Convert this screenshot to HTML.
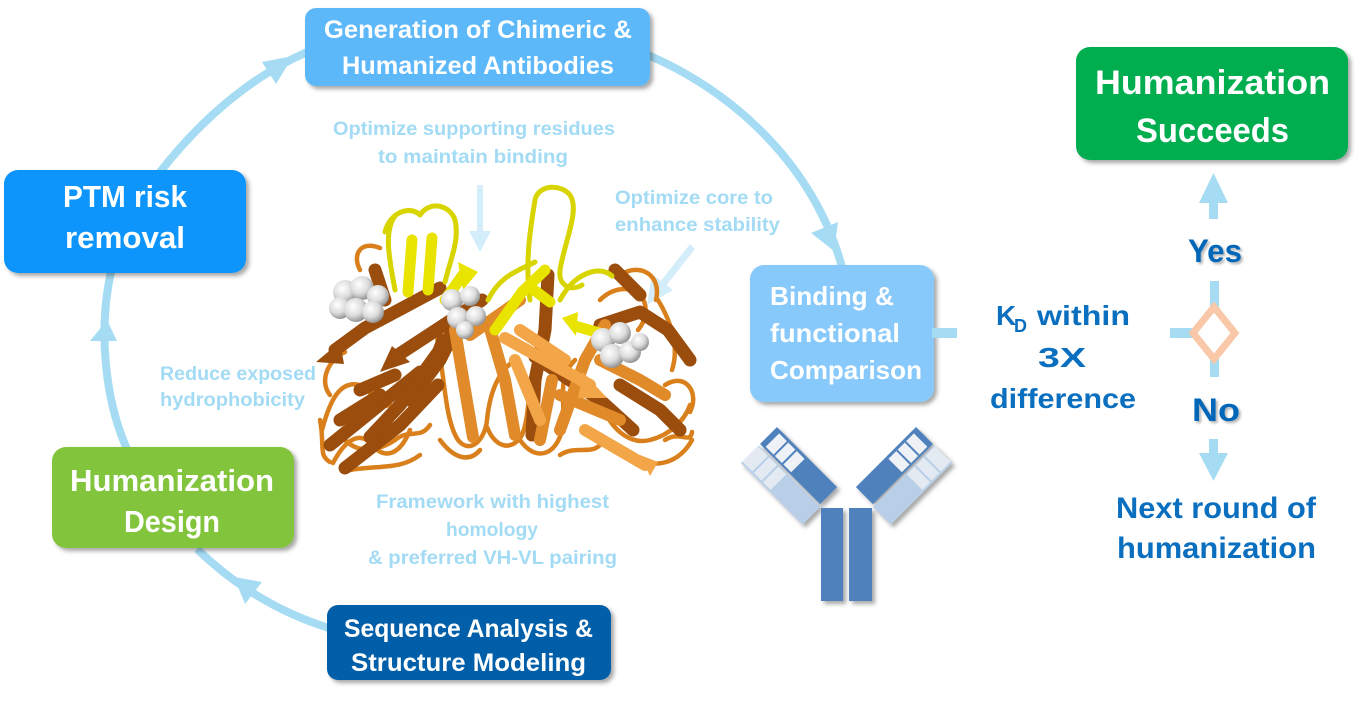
<!DOCTYPE html>
<html><head><meta charset="utf-8"><style>
html,body{margin:0;padding:0;background:#fff;}
svg{display:block;}
text{font-family:"Liberation Sans",sans-serif;font-weight:bold;}
</style></head><body>
<svg width="1363" height="705" viewBox="0 0 1363 705" xmlns="http://www.w3.org/2000/svg">
<defs>
<filter id="sh" x="-10%" y="-10%" width="130%" height="140%"><feDropShadow dx="3" dy="3" stdDeviation="2" flood-color="#000" flood-opacity="0.35"/></filter>
<filter id="tsh" x="-10%" y="-10%" width="130%" height="140%"><feDropShadow dx="2" dy="2" stdDeviation="1.2" flood-color="#000" flood-opacity="0.3"/></filter>
<radialGradient id="sp" cx="0.38" cy="0.35" r="0.7"><stop offset="0" stop-color="#ffffff"/><stop offset="0.55" stop-color="#dcdcdc"/><stop offset="1" stop-color="#8a8a8a"/></radialGradient>
</defs>
<rect width="1363" height="705" fill="#fff"/>

<!-- cycle connectors -->
<g fill="none" stroke="#a5dcf3" stroke-width="8">
<path d="M160,172 Q226,88 307,52"/>
<path d="M127,449 C105,400 98,330 111,272"/>
<path d="M329,628 Q255,605 197,549"/>
<path d="M648,55 C740,95 815,170 842,267"/>
</g>
<g fill="#a5dcf3">
<polygon points="262,62 276,84 293,56"/>
<polygon points="90,341 117,341 107,320"/>
<polygon points="262,582 245,604 234,577"/>
<polygon points="811,233 838,222 834,251"/>
</g>

<!-- protein annotation arrows -->
<g fill="#d3eefa">
<rect x="477" y="185" width="6" height="48"/>
<polygon points="469,231 491,231 480,252"/>
<polygon points="690,244 695,249 665,287 660,282"/>
<polygon points="652,274 673,290 647,305"/>
</g>

<!-- protein stylized -->
<g fill="none" stroke-linecap="round" stroke-linejoin="round">
 <!-- thin loops orange -->
 <g stroke="#d9801c" stroke-width="4.5">
  <path d="M333,463 C345,440 360,430 372,445 C385,460 400,455 410,430"/>
  <path d="M322,430 C330,400 340,380 360,385 C375,390 372,410 390,405"/>
  <path d="M330,395 C318,380 330,358 345,352"/>
  <path d="M437,337 C445,380 445,420 458,440 C470,455 485,440 487,420 C490,390 500,370 515,360"/>
  <path d="M487,427 C495,448 512,452 522,435 C532,410 525,380 540,365"/>
  <path d="M520,440 C535,462 556,456 562,430 C567,400 555,380 575,360"/>
  <path d="M600,400 C610,430 630,445 650,440 C670,435 685,420 690,405"/>
  <path d="M630,455 C655,472 680,462 692,440"/>
  <path d="M600,300 C612,288 630,285 640,295 C650,306 645,322 638,330"/>
  <path d="M620,275 C640,262 662,275 656,300"/>
  <path d="M665,385 C685,372 700,392 690,412"/>
  <path d="M658,300 C670,320 680,345 672,370"/>
  <path d="M350,470 C380,465 400,470 420,455"/>
  <path d="M380,248 C360,240 352,255 360,270"/>
  <path d="M320,420 C325,445 318,455 330,462"/>
  <path d="M345,440 C360,455 380,450 395,440 C410,428 420,440 430,425"/>
  <path d="M560,455 C575,445 590,455 600,445"/>
  <path d="M665,440 C680,430 690,445 692,432"/>
  <path d="M440,440 C455,460 470,462 480,450"/>
 </g>
 <!-- broad brown ribbons -->
 <g stroke="#9a4d0c" stroke-width="13">
  <path d="M482,300 L398,355"/>
  <path d="M440,288 L365,328 L335,350"/>
  <path d="M330,445 L420,372"/>
  <path d="M345,468 L400,425 L438,385"/>
  <path d="M375,270 L385,300"/>
  <path d="M600,325 L640,312 L668,330 L690,360"/>
  <path d="M620,385 L660,410 L680,430"/>
  <path d="M410,400 L440,360 L450,340"/>
  <path d="M465,315 L400,405 L370,437"/>
  <path d="M548,275 L545,330 L535,380 L532,435"/>
  <path d="M535,357 L600,400 L633,430"/>
  <path d="M340,420 L380,395"/>
  <path d="M615,270 L640,295"/>
  <path d="M360,390 L395,375"/>
 </g>
 <g fill="#9a4d0c" stroke="none">
  <polygon points="392,346 410,362 380,372"/>
  <polygon points="316,362 340,342 344,364"/>
  <polygon points="440,330 455,350 430,356"/>
 </g>
 <!-- orange ribbons -->
 <g stroke="#e08a2a" stroke-width="12">
  <path d="M470,335 L520,300"/>
  <path d="M560,430 L585,360 L605,325"/>
  <path d="M540,440 L552,380"/>
  <path d="M620,420 L560,395"/>
  <path d="M488,322 L505,380 L515,435"/>
  <path d="M455,330 L465,390 L473,437"/>
  <path d="M600,360 L640,380 L665,395"/>
 </g>
 <g stroke="#f3a647" stroke-width="12">
  <path d="M505,338 L590,385"/>
  <path d="M585,430 L645,465"/>
  <path d="M515,360 L540,420"/>
  <path d="M520,330 L565,360"/>
 </g>
 <g fill="#f3a647" stroke="none">
  <polygon points="583,372 607,398 578,398"/>
  <polygon points="640,455 658,462 650,476"/>
 </g>
 <!-- yellow -->
 <g stroke="#d8d400" stroke-width="5">
  <path d="M530,300 C525,262 530,230 535,200 C538,185 560,183 570,195 C580,210 565,240 560,270 C558,285 570,292 582,285"/>
  <path d="M385,232 C390,212 410,205 420,215 C430,200 450,205 455,220 C460,240 450,260 445,282"/>
  <path d="M395,290 C390,262 383,232 395,216"/>
  <path d="M560,300 C575,272 600,265 612,276"/>
  <path d="M488,300 C500,275 520,270 535,262"/>
 </g>
 <g stroke="#e8e400" stroke-width="11">
  <path d="M408,292 L412,240"/>
  <path d="M428,290 L432,238"/>
  <path d="M495,330 L522,292 L545,270"/>
  <path d="M530,287 L550,302"/>
  <path d="M610,336 L575,326"/>
  <path d="M445,300 L465,272"/>
 </g>
 <g fill="#e8e400" stroke="none">
  <polygon points="458,262 478,272 463,290"/>
  <polygon points="562,318 578,312 576,336"/>
 </g>
 <!-- spheres -->
 <g fill="url(#sp)" stroke="none">
  <circle cx="345" cy="292" r="12"/><circle cx="362" cy="288" r="12"/><circle cx="378" cy="296" r="11"/>
  <circle cx="340" cy="308" r="11"/><circle cx="356" cy="310" r="12"/><circle cx="373" cy="312" r="11"/>
  <circle cx="452" cy="300" r="11"/><circle cx="470" cy="296" r="10"/><circle cx="458" cy="318" r="11"/>
  <circle cx="476" cy="316" r="10"/><circle cx="465" cy="330" r="9"/>
  <circle cx="603" cy="340" r="12"/><circle cx="620" cy="333" r="11"/><circle cx="612" cy="356" r="12"/>
  <circle cx="630" cy="352" r="11"/><circle cx="640" cy="342" r="9"/>
 </g>
</g>

<!-- annotation texts -->
<g fill="#a3dbf5" font-size="19">
 <text x="333" y="135" textLength="282" lengthAdjust="spacingAndGlyphs">Optimize supporting residues</text>
 <text x="378" y="163" textLength="190" lengthAdjust="spacingAndGlyphs">to maintain binding</text>
 <text x="615" y="204" textLength="158" lengthAdjust="spacingAndGlyphs">Optimize core to</text>
 <text x="615" y="231" textLength="165" lengthAdjust="spacingAndGlyphs">enhance stability</text>
 <text x="160" y="380" textLength="156" lengthAdjust="spacingAndGlyphs">Reduce exposed</text>
 <text x="160" y="406" textLength="145" lengthAdjust="spacingAndGlyphs">hydrophobicity</text>
 <text x="376" y="508" textLength="233" lengthAdjust="spacingAndGlyphs">Framework with highest</text>
 <text x="446" y="536" textLength="92" lengthAdjust="spacingAndGlyphs">homology</text>
 <text x="368" y="564" textLength="249" lengthAdjust="spacingAndGlyphs">&amp; preferred VH-VL pairing</text>
</g>

<!-- boxes -->
<g filter="url(#sh)">
 <rect x="305" y="8" width="345" height="78" rx="11" fill="#5db8fa"/>
 <rect x="4" y="170" width="242" height="103" rx="14" fill="#0b95fb"/>
 <rect x="52" y="447" width="242" height="101" rx="14" fill="#82c43a"/>
 <rect x="327" y="605" width="284" height="75" rx="11" fill="#045fa8"/>
 <rect x="750" y="265" width="184" height="137" rx="14" fill="#88c9fc"/>
 <rect x="1076" y="47" width="272" height="113" rx="14" fill="#00ad4f"/>
</g>
<g fill="#fff">
 <text x="324" y="38" font-size="25" textLength="308" lengthAdjust="spacingAndGlyphs">Generation of Chimeric &amp;</text>
 <text x="342" y="74" font-size="25" textLength="272" lengthAdjust="spacingAndGlyphs">Humanized Antibodies</text>
 <text x="63" y="207" font-size="31" textLength="124" lengthAdjust="spacingAndGlyphs">PTM risk</text>
 <text x="65" y="248" font-size="31" textLength="120" lengthAdjust="spacingAndGlyphs">removal</text>
 <text x="70" y="491" font-size="31" textLength="204" lengthAdjust="spacingAndGlyphs">Humanization</text>
 <text x="124" y="532" font-size="31" textLength="96" lengthAdjust="spacingAndGlyphs">Design</text>
 <text x="344" y="637" font-size="25" textLength="249" lengthAdjust="spacingAndGlyphs">Sequence Analysis &amp;</text>
 <text x="351" y="671" font-size="25" textLength="235" lengthAdjust="spacingAndGlyphs">Structure Modeling</text>
 <text x="770" y="305" font-size="26" textLength="124" lengthAdjust="spacingAndGlyphs">Binding &amp;</text>
 <text x="770" y="342" font-size="26" textLength="130" lengthAdjust="spacingAndGlyphs">functional</text>
 <text x="770" y="379" font-size="26" textLength="152" lengthAdjust="spacingAndGlyphs">Comparison</text>
 <text x="1095" y="94" font-size="34" textLength="235" lengthAdjust="spacingAndGlyphs">Humanization</text>
 <text x="1136" y="142" font-size="34" textLength="153" lengthAdjust="spacingAndGlyphs">Succeeds</text>
</g>

<!-- decision -->
<g fill="#a5dcf3">
 <rect x="932" y="328" width="25" height="10"/>
 <rect x="1170" y="328" width="32" height="10"/>
 <rect x="1210" y="281" width="9" height="96"/>
 <rect x="1209" y="200" width="9" height="19"/>
 <polygon points="1199,203 1228,203 1213.5,173"/>
 <rect x="1209" y="439" width="9" height="16"/>
 <polygon points="1199,453 1228,453 1213.5,481"/>
</g>
<polygon points="1214,307 1235,333 1214,359 1193,333" fill="#fff" stroke="#f8c8a8" stroke-width="7" stroke-linejoin="miter"/>

<g fill="#0a6fbf">
 <text x="996" y="325" font-size="28">K</text>
 <text x="1014" y="332" font-size="18">D</text>
 <text x="1037" y="325" font-size="28" textLength="93" lengthAdjust="spacingAndGlyphs">within</text>
 <text x="1038" y="367" font-size="28" textLength="48" lengthAdjust="spacingAndGlyphs">3X</text>
 <text x="990" y="408" font-size="28" textLength="146" lengthAdjust="spacingAndGlyphs">difference</text>
 <text x="1116" y="518" font-size="30" textLength="200" lengthAdjust="spacingAndGlyphs">Next round of</text>
 <text x="1117" y="558" font-size="30" textLength="199" lengthAdjust="spacingAndGlyphs">humanization</text>
</g>
<g fill="#0066b8" filter="url(#tsh)">
 <text x="1188" y="262" font-size="32" textLength="54" lengthAdjust="spacingAndGlyphs">Yes</text>
 <text x="1192" y="421" font-size="32" textLength="48" lengthAdjust="spacingAndGlyphs">No</text>
</g>

<!-- antibody icon -->
<g filter="url(#sh)">
 <rect x="821" y="508" width="22" height="93" fill="#4f81bd"/>
 <rect x="849" y="508" width="23" height="93" fill="#4f81bd"/>
 <g transform="translate(777,427) rotate(45)">
  <rect x="0" y="0" width="85" height="24" fill="#4f81bd"/>
  <rect x="0" y="26" width="87" height="25" fill="#b8cfe7"/>
  <rect x="6" y="3" width="36" height="19" fill="#eef1f5"/>
  <rect x="0" y="27" width="40" height="22" fill="#e4eaf2"/>
  <rect x="17" y="3" width="2" height="19" fill="#4f81bd"/>
  <rect x="29" y="3" width="2" height="19" fill="#4f81bd"/>
  <rect x="14" y="27" width="2" height="22" fill="#b8cfe7"/>
  <rect x="27" y="27" width="2" height="22" fill="#b8cfe7"/>
 </g>
 <g transform="translate(1693,0) scale(-1,1)">
  <g transform="translate(777,427) rotate(45)">
   <rect x="0" y="0" width="85" height="24" fill="#4f81bd"/>
   <rect x="0" y="26" width="87" height="25" fill="#b8cfe7"/>
   <rect x="6" y="3" width="36" height="19" fill="#eef1f5"/>
   <rect x="0" y="27" width="40" height="22" fill="#e4eaf2"/>
   <rect x="17" y="3" width="2" height="19" fill="#4f81bd"/>
   <rect x="29" y="3" width="2" height="19" fill="#4f81bd"/>
   <rect x="14" y="27" width="2" height="22" fill="#b8cfe7"/>
   <rect x="27" y="27" width="2" height="22" fill="#b8cfe7"/>
  </g>
 </g>
</g>
</svg>
</body></html>
